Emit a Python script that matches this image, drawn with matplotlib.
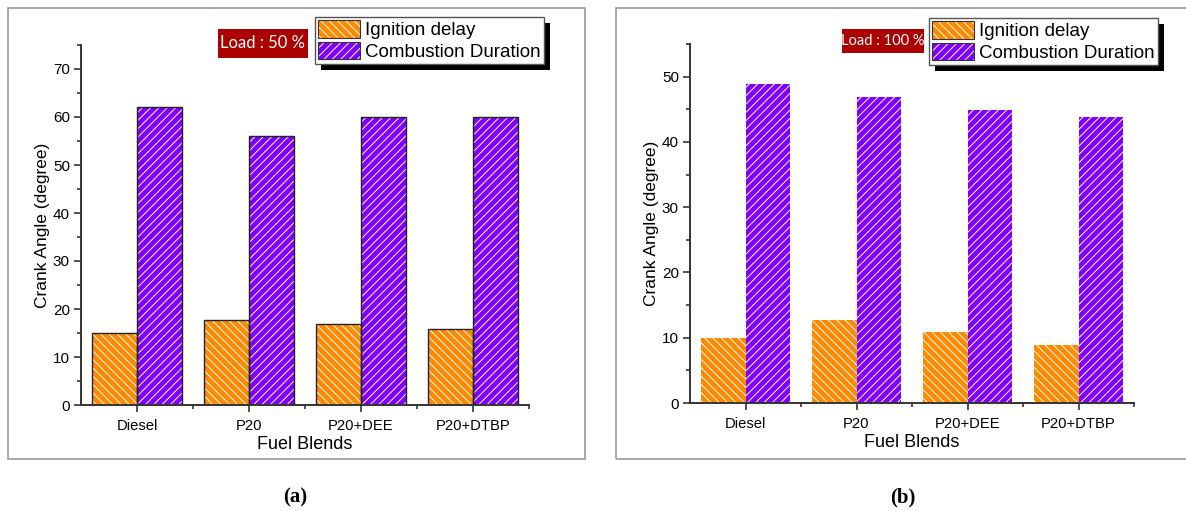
import numpy as np
import matplotlib
matplotlib.use("Agg")
import matplotlib.pyplot as plt
from matplotlib.patches import Rectangle, Patch
from matplotlib.legend_handler import HandlerTuple
from matplotlib.ticker import MultipleLocator, FixedLocator

plt.rcParams['font.family'] = ['Liberation Sans', 'DejaVu Sans']
plt.rcParams['hatch.linewidth'] = 0.7

blends = ['Diesel', 'P20', 'P20+DEE', 'P20+DTBP']

# load 50 %
ign_50 = [15, 17.8, 16.8, 15.8]
comb_50 = [62, 56, 60, 60]

# load 100 %
ign_100 = [9.9, 12.7, 10.9, 8.9]
comb_100 = [48.9, 46.9, 44.9, 43.8]

ORANGE = '#ff8a00'
PURPLE = '#8000ff'
W, H = 1186, 511


def fig_rect(x0, y0, x1, y1):
    # pixel box (from top-left) -> figure fraction
    return [x0 / W, 1 - y1 / H, (x1 - x0) / W, (y1 - y0) / H]


fig = plt.figure(figsize=(W / 100, H / 100), dpi=100)

# panel frames
for x0, x1 in [(8, 585), (616, 1200)]:
    fig.patches.append(Rectangle((x0 / W, 1 - 459 / H), (x1 - x0) / W, 451 / H,
                                 transform=fig.transFigure, fill=False,
                                 edgecolor='#9a9a9a', lw=1.2))

legends = []


def legend_key(color, hatch):
    # white hatch inside, dark outline on top
    return (Patch(facecolor=color, hatch=hatch, edgecolor='white', lw=0),
            Patch(fill=False, edgecolor='#333333', lw=0.8))


def panel(box, ign, comb, ymax, ystep, outline, load_txt, load_box, leg_xy, load_fs):
    ax = fig.add_axes(fig_rect(*box))
    x = np.arange(len(blends))
    w = 0.4
    ax.bar(x - w / 2, ign, w, color=ORANGE, hatch='\\\\\\\\', edgecolor='white', lw=0)
    ax.bar(x + w / 2, comb, w, color=PURPLE, hatch='////', edgecolor='white', lw=0)
    if outline:
        ax.bar(x - w / 2, ign, w, fill=False, edgecolor='#222222', lw=1.0)
        ax.bar(x + w / 2, comb, w, fill=False, edgecolor='#222222', lw=1.0)

    ax.set_xlim(-0.5, 3.5)
    ax.set_ylim(0, ymax)
    ax.set_xticks(x)
    ax.set_xticklabels(blends)
    ax.xaxis.set_minor_locator(FixedLocator([0.5, 1.5, 2.5, 3.5]))
    ax.yaxis.set_major_locator(MultipleLocator(ystep))
    ax.yaxis.set_minor_locator(MultipleLocator(ystep / 2))
    ax.tick_params(axis='both', which='major', length=5, width=1.2, labelsize=11,
                   color='#333333', pad=3)
    ax.tick_params(axis='x', labelsize=10.6, pad=5)
    ax.tick_params(axis='both', which='minor', length=3, width=1.2, color='#333333')
    for s in ['top', 'right']:
        ax.spines[s].set_visible(False)
    for s in ['left', 'bottom']:
        ax.spines[s].set_linewidth(1.4)
        ax.spines[s].set_color('#333333')
    ax.set_xlabel('Fuel Blends', fontsize=13, labelpad=2)
    ax.set_ylabel('Crank Angle (degree)', fontsize=12.5, labelpad=2)

    # load badge
    lx0, ly0, lx1, ly1 = load_box
    fig.patches.append(Rectangle((lx0 / W, 1 - ly1 / H), (lx1 - lx0) / W, (ly1 - ly0) / H,
                                 transform=fig.transFigure, facecolor='#ab0000',
                                 edgecolor='none'))
    fig.text((lx0 + lx1) / 2 / W, 1 - (ly0 + ly1) / 2 / H, load_txt, color='white',
             ha='center', va='center', fontsize=load_fs,
             family=['Lato', 'DejaVu Sans'])

    leg = ax.legend(handles=[legend_key(ORANGE, '\\\\\\\\'), legend_key(PURPLE, '////')],
                    labels=['Ignition delay', 'Combustion Duration'],
                    handler_map={tuple: HandlerTuple(ndivide=1, pad=0)},
                    loc='upper left',
                    bbox_to_anchor=(leg_xy[0] / W, 1 - leg_xy[1] / H),
                    bbox_transform=fig.transFigure,
                    fontsize=13.5, frameon=True, fancybox=False, framealpha=1,
                    edgecolor='#555555', borderpad=0.18, handlelength=2.2,
                    handleheight=1.05, handletextpad=0.28, labelspacing=0.12,
                    borderaxespad=0)
    leg.set_zorder(6)
    leg.get_frame().set_linewidth(1.0)
    legends.append((ax, leg))
    return ax


panel((81, 45, 529, 405), ign_50, comb_50, 75, 10, True,
      'Load : 50 %', (218, 29, 308, 58), (315, 17), 12)
panel((690, 44, 1134, 403), ign_100, comb_100, 55, 10, False,
      'Load : 100 %', (842, 29, 924, 53), (929, 18), 10.5)

# solid black drop shadow under each legend box
fig.canvas.draw()
inv = fig.transFigure.inverted()
for ax, leg in legends:
    bb = leg.get_frame().get_window_extent()
    (fx0, fy0), (fx1, fy1) = inv.transform([[bb.x0 + 6, bb.y0 - 6], [bb.x1 + 6, bb.y1 - 6]])
    ax.add_artist(Rectangle((fx0, fy0), fx1 - fx0, fy1 - fy0, transform=fig.transFigure,
                            facecolor='black', edgecolor='none', zorder=4, clip_on=False))

fig.text(295 / W, 1 - 497 / H, '(a)', ha='center', va='center', fontsize=15,
         family=['Liberation Serif', 'DejaVu Serif'], fontweight='bold')
fig.text(903 / W, 1 - 497 / H, '(b)', ha='center', va='center', fontsize=15,
         family=['Liberation Serif', 'DejaVu Serif'], fontweight='bold')

fig.savefig('out.png', dpi=100)
